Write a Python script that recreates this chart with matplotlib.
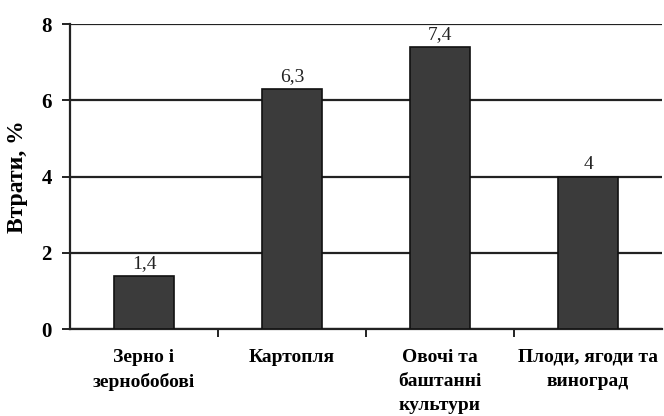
import matplotlib.pyplot as plt
import numpy as np

categories = ["Зерно і\nзернобобові", "Картопля", "Овочі та\nбаштанні\nкультури", "Плоди, ягоди та\nвиноград"]
losses = [1.4, 6.3, 7.4, 4.0]
value_labels = ["1,4", "6,3", "7,4", "4"]
yticks = [0, 2, 4, 6, 8]

plt.rcParams['font.family'] = ['Liberation Serif', 'DejaVu Serif']

fig = plt.figure(figsize=(6.64, 4.16), dpi=100)
ax = fig.add_axes([0.1054, 0.209, 0.8916, 0.733])

x = np.arange(len(categories))
bars = ax.bar(x, losses, width=0.4, color='#3b3b3b', edgecolor='#111111', linewidth=1.2, zorder=3)

for xi, v, lab in zip(x, losses, value_labels):
    ax.text(xi, v + 0.1, lab, ha='center', va='bottom', fontsize=14, color='#222222')

ax.set_xlim(-0.5, len(categories) - 0.5)
ax.set_ylim(0, 8)
ax.set_yticks(yticks)
ax.set_yticklabels([str(t) for t in yticks], fontsize=15, fontweight='bold')
ax.yaxis.grid(True, color='#222222', linewidth=1.6, zorder=0)
ax.tick_params(axis='y', length=6, width=1.4, color='#222222', pad=7)

ax.set_xticks(x)
ax.set_xticklabels(categories, fontsize=14, fontweight='bold', linespacing=1.55)
ax.tick_params(axis='x', which='major', length=0, pad=14)
ax.set_xticks(np.arange(len(categories) - 1) + 0.5, minor=True)
ax.tick_params(axis='x', which='minor', length=6, width=1.4, color='#222222', direction='out')

ax.set_ylabel("Втрати, %", fontsize=17, fontweight='bold', labelpad=10)

for s in ['top', 'right']:
    ax.spines[s].set_visible(False)
for s in ['left', 'bottom']:
    ax.spines[s].set_linewidth(1.6)
    ax.spines[s].set_color('#222222')

fig.savefig("out.png", dpi=100)
